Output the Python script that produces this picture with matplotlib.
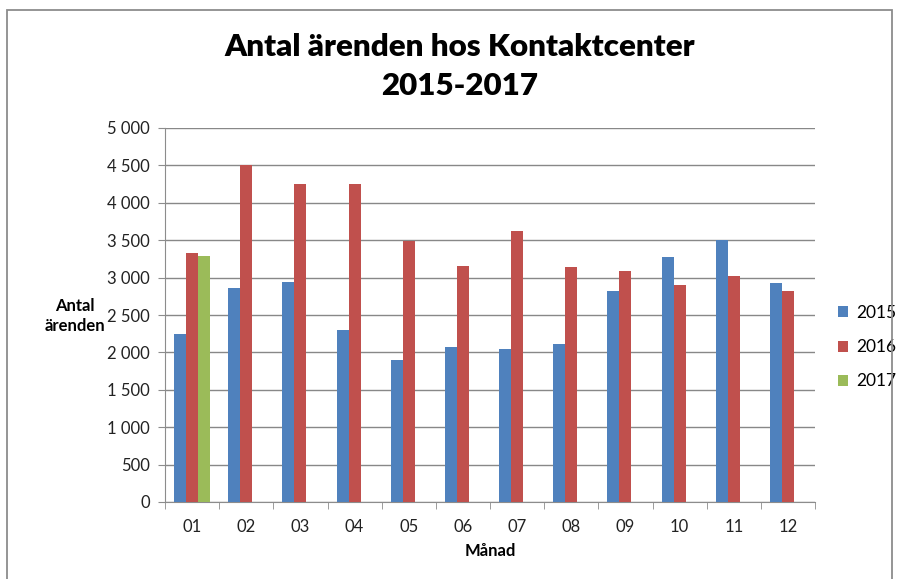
import numpy as np
import matplotlib.pyplot as plt
from matplotlib.patches import Rectangle
from matplotlib.ticker import FuncFormatter, MultipleLocator

manader = ["01", "02", "03", "04", "05", "06", "07", "08", "09", "10", "11", "12"]
v2015 = [2250, 2855, 2945, 2295, 1900, 2075, 2040, 2110, 2820, 3280, 3500, 2930]
v2016 = [3335, 4500, 4245, 4245, 3490, 3160, 3620, 3140, 3090, 2905, 3015, 2815]
v2017 = [3290]
ar = ["2015", "2016", "2017"]
farger = ["#4F81BD", "#C0504D", "#9BBB59"]

plt.rcParams['font.family'] = ['Lato', 'DejaVu Sans']

fig = plt.figure(figsize=(8.98, 5.79), dpi=100)
ax = fig.add_axes([165/898, 1-502/579, 650/898, 374/579])

# ram runt hela diagrammet
fig.patches.append(Rectangle((7/898, -0.05), 885/898, 1.05-10/579, transform=fig.transFigure,
                             fill=False, edgecolor="#8c8c8c", linewidth=1.3))

x = np.arange(len(manader))
w = 1/4.5
ax.bar(x - w, v2015, w, color=farger[0], label=ar[0], zorder=3)
ax.bar(x, v2016, w, color=farger[1], label=ar[1], zorder=3)
ax.bar(x[:len(v2017)] + w, v2017, w, color=farger[2], label=ar[2], zorder=3)

ax.set_xlim(-0.5, len(manader) - 0.5)
ax.set_ylim(0, 5000)
ax.yaxis.set_major_locator(MultipleLocator(500))
ax.yaxis.set_major_formatter(FuncFormatter(lambda v, p: f"{int(v):,}".replace(",", " ")))
ax.set_xticks(x)
ax.set_xticklabels(manader)
ax.set_xticks(np.arange(-0.5, len(manader)), minor=True)
ax.tick_params(axis='x', which='major', length=0, pad=12, labelsize=12, colors="#222222")
ax.tick_params(axis='x', which='minor', length=5, color="#8c8c8c", direction='out')
ax.tick_params(axis='y', length=5, labelsize=12, pad=6, colors="#8c8c8c", labelcolor="#222222")

ax.grid(axis='y', color="#888888", linewidth=1, zorder=0)
for s in ["top", "right"]:
    ax.spines[s].set_visible(False)
ax.spines["left"].set_color("#8c8c8c")
ax.spines["bottom"].set_color("#8c8c8c")

fig.text(460/898, 1-47/579, "Antal ärenden hos Kontaktcenter", ha='center', va='center',
         fontsize=22.5, fontweight='heavy')
fig.text(460/898, 1-86/579, "2015-2017", ha='center', va='center',
         fontsize=22.5, fontweight='heavy')
fig.text(75/898, 1-316/579, "Antal\närenden", ha='center', va='center',
         fontsize=12, fontweight='bold', linespacing=1.3)
fig.text(490/898, 1-551/579, "Månad", ha='center', va='center',
         fontsize=12, fontweight='bold')

ax.legend(loc='center left', bbox_to_anchor=(1.035, 0.414), frameon=False,
          borderaxespad=0, borderpad=0,
          fontsize=12.5, handlelength=0.6, handleheight=0.6, labelspacing=1.05,
          handletextpad=0.45)

fig.savefig("out.png", dpi=100)
